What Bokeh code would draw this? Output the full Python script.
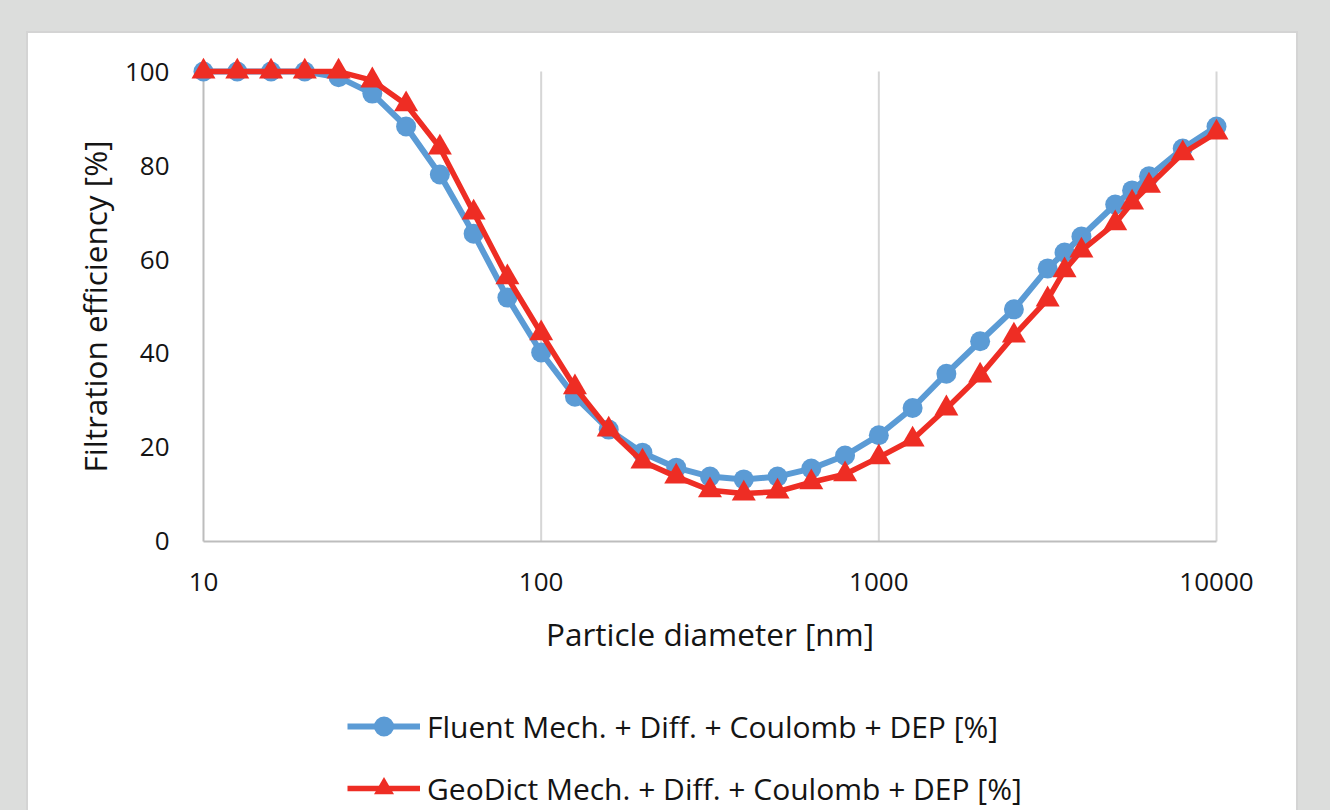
from bokeh.plotting import figure
from bokeh.models import (Range1d, FixedTicker, PrintfTickFormatter, Legend, LegendItem,
                          GlobalInlineStyleSheet, Spacer)
from bokeh.layouts import column, row
from bokeh.embed import file_html
from bokeh.resources import INLINE

# ---- data ----
diameter_nm = [10, 12.59, 15.85, 19.95, 25.12, 31.62, 39.81, 50.12, 63.1, 79.43,
               100, 125.9, 158.5, 199.5, 251.2, 316.2, 398.1, 501.2, 631, 794.3,
               1000, 1259, 1585, 1995, 2512, 3162, 3548, 3981, 5012, 5623, 6310, 7943, 10000]
fluent = [100, 100, 100, 100, 98.8, 95.3, 88.3, 78.1, 65.5, 51.9,
          40.2, 30.8, 23.8, 18.9, 15.7, 13.8, 13.2, 13.8, 15.5, 18.3,
          22.6, 28.4, 35.7, 42.6, 49.4, 58.1, 61.5, 64.9, 71.7, 74.7, 77.7, 83.6, 88.3]
geodict = [100, 100, 100, 100, 100, 98.1, 93.0, 83.8, 70.0, 56.2,
           44.3, 32.8, 23.8, 17.0, 13.8, 10.9, 10.2, 10.6, 12.6, 14.3,
           17.9, 21.7, 28.3, 35.3, 43.8, 51.5, 57.7, 61.9, 67.7, 72.1, 75.7, 82.6, 87.0]
series_names = ["Fluent Mech. + Diff. + Coulomb + DEP [%]",
                "GeoDict Mech. + Diff. + Coulomb + DEP [%]"]
x_ticks = [10, 100, 1000, 10000]
y_ticks = [0, 20, 40, 60, 80, 100]

BLUE = "#5B9BD5"
RED = "#EE2D24"
FONT = "Open Sans"
TXT = "#141414"
BLUE_LINE = dict(line_color=BLUE, line_width=6, line_join="round")
RED_LINE = dict(line_color=RED, line_width=5.5, line_join="round")
BLUE_MARK = dict(marker="circle", size=20, fill_color=BLUE, line_color=None)
RED_MARK = dict(marker="triangle", size=24, fill_color=RED, line_color=None)

p = figure(width=1268, height=638, x_axis_type="log",
           x_range=Range1d(10 ** 0.9556, 10 ** 4.0444), y_range=Range1d(-3.2, 103.2),
           min_border_left=160, min_border_right=65, min_border_top=23, min_border_bottom=115,
           output_backend="svg", toolbar_location=None,
           background_fill_alpha=0, border_fill_alpha=0,
           outline_line_color=None)
p.title.visible = False
p.stylesheets = [GlobalInlineStyleSheet(css="html, body { background-color: #dcdddc; }")]
p.xgrid.visible = False
p.ygrid.visible = False

# grid lines & axis line
p.segment(x0=x_ticks[1:], y0=[y_ticks[0]] * 3, x1=x_ticks[1:], y1=[y_ticks[-1]] * 3,
          line_color="#d6d6d6", line_width=2)
p.segment(x0=[x_ticks[0]], y0=[y_ticks[0]], x1=[x_ticks[0]], y1=[y_ticks[-1]],
          line_color="#bdbdbd", line_width=2)
p.segment(x0=[x_ticks[0]], y0=[y_ticks[0]], x1=[x_ticks[-1]], y1=[y_ticks[0]],
          line_color="#bdbdbd", line_width=2)

p.line(diameter_nm, fluent, **BLUE_LINE)
p.scatter(diameter_nm, fluent, **BLUE_MARK)
p.line(diameter_nm, geodict, **RED_LINE)
p.scatter(diameter_nm, geodict, **RED_MARK)

for ax in (p.xaxis[0], p.yaxis[0]):
    ax.axis_line_color = None
    ax.major_tick_line_color = None
    ax.minor_tick_line_color = None
    ax.major_label_text_font = FONT
    ax.major_label_text_font_size = "26px"
    ax.major_label_text_color = TXT
    ax.axis_label_text_font = FONT
    ax.axis_label_text_font_size = "31.5px"
    ax.axis_label_text_font_style = "normal"
    ax.axis_label_text_color = TXT

p.xaxis.ticker = FixedTicker(ticks=x_ticks)
p.xaxis.formatter = PrintfTickFormatter(format="%d")
p.xaxis.major_label_standoff = 10
p.xaxis.axis_label = "Particle diameter [nm]"
p.xaxis.axis_label_standoff = 18

p.yaxis.ticker = FixedTicker(ticks=y_ticks)
p.yaxis.major_label_standoff = 13
p.yaxis.axis_label = "Filtration efficiency [%]"
p.yaxis.axis_label_standoff = 6

# ---- legend strip (separate figure below the chart) ----
lg = figure(width=1268, height=139, x_range=Range1d(0, 1), y_range=Range1d(0, 1),
            x_axis_location=None, y_axis_location=None,
            min_border_left=160, min_border_right=65, min_border_top=0, min_border_bottom=0,
            output_backend="svg", toolbar_location=None,
            background_fill_alpha=0, border_fill_alpha=0,
            outline_line_color=None)
lg.title.visible = False
lg.xgrid.visible = False
lg.ygrid.visible = False
# same series (they fall outside this strip's ranges); only their legend glyphs show
lbl = lg.line(diameter_nm, fluent, **BLUE_LINE)
lbm = lg.scatter(diameter_nm, fluent, **BLUE_MARK)
lrl = lg.line(diameter_nm, geodict, **RED_LINE)
lrm = lg.scatter(diameter_nm, geodict, **RED_MARK)
legend = Legend(items=[LegendItem(label=series_names[0], renderers=[lbl, lbm]),
                       LegendItem(label=series_names[1], renderers=[lrl, lrm])],
                location=(159, -3), orientation="vertical",
                glyph_width=73, glyph_height=50, label_height=50, spacing=12,
                label_standoff=7, padding=0, margin=0,
                border_line_color=None, background_fill_alpha=0,
                label_text_font=FONT, label_text_font_size="30px", label_text_color=TXT)
lg.add_layout(legend)

panel = column(p, lg, spacing=0,
               styles={"outline": "2px solid #d4d4d4", "background-color": "white"})
layout = column(Spacer(height=33), row(Spacer(width=28), panel))
open("out.html", "w").write(file_html(layout, INLINE))
